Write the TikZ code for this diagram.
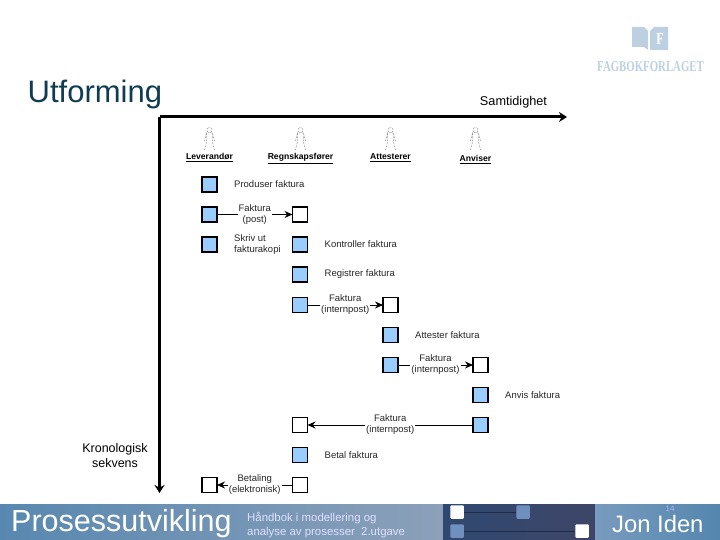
\documentclass[tikz,border=0pt]{standalone}
\usepackage{fontspec}
\setmainfont{Liberation Sans}
\newfontfamily\logofont[FakeStretch=0.72]{Liberation Serif}
\usepackage{xcolor}
\usetikzlibrary{arrows.meta,positioning,calc}
\definecolor{boxblue}{HTML}{99CCFF}
\definecolor{titleteal}{HTML}{0F3C50}
\definecolor{logoblue}{HTML}{BCD0E2}
\definecolor{sliderblue}{HTML}{6F8FBE}
\definecolor{sliderline}{HTML}{1E2C4A}
\begin{document}
\begin{tikzpicture}[x=1pt,y=-1pt,
    activity/.style={rectangle, draw=black, line width=1.2pt, fill=boxblue, minimum size=15pt, inner sep=0pt, outer sep=0pt},
    message/.style={activity, fill=white},
    txt/.style={font=\fontsize{9.5}{11.5}\selectfont, text=black!85, inner sep=0pt, align=left},
    flowlabel/.style={font=\fontsize{9.5}{11}\selectfont, text=black!85, fill=white, inner sep=1pt, align=center},
    flow/.style={-{Stealth[length=8pt,width=7pt]}, line width=0.9pt},
    actorname/.style={font=\fontsize{8.6}{9}\selectfont\bfseries, inner sep=0pt, anchor=base},
    figure/.style={line width=0.5pt, densely dotted, black!70},
    axis/.style={-{Stealth[length=8pt,width=10pt]}, line width=3pt},
    bannertext/.style={text=white, inner sep=0pt, anchor=west},
    slider/.style={rectangle, rounded corners=1pt, minimum size=13.5pt, inner sep=0pt}
]
    \useasboundingbox (0,0) rectangle (720,540);

    % banner
    \fill[left color={rgb,255:red,88;green,136;blue,176}, right color={rgb,255:red,140;green,160;blue,185}] (0,504) rectangle (443,540);
    \fill[left color={rgb,255:red,48;green,72;blue,112}, right color={rgb,255:red,62;green,70;blue,104}] (443,504) rectangle (595,540);
    \fill[left color={rgb,255:red,120;green,155;blue,190}, right color={rgb,255:red,84;green,134;blue,174}] (595,504) rectangle (720,540);
    \node[bannertext, font=\fontsize{30.5}{30}\selectfont] (book) at (11,524) {Prosessutvikling};
    \node[bannertext, font=\fontsize{11.4}{13.5}\selectfont, text=white!88!blue, align=left] (subtitle) at (247,525) {Håndbok i modellering og\\analyse av prosesser \ 2.utgave};
    \node[bannertext, font=\fontsize{23.8}{24}\selectfont] (author) at (612,523.5) {Jon Iden};
    \node[font=\fontsize{8}{8}\selectfont, text=white!70!blue, inner sep=0pt] (page) at (670,509) {14};
    \node[slider, fill=white] (s1) at (457,512) {};
    \node[slider, fill=sliderblue] (s2) at (523,512) {};
    \node[slider, fill=sliderblue] (s3) at (457,531) {};
    \node[slider, fill=white] (s4) at (582,531) {};
    \draw[sliderline, line width=0.5pt] (s1) -- (s2);
    \draw[sliderline, line width=0.5pt] (s3) -- (s4);

    % logo
    \fill[logoblue] (632,27) -- (644,27) -- (648,31) -- (648,50) -- (644,47) -- (632,47) -- cycle;
    \fill[logoblue] (650,31) -- (654,27) -- (668,27) -- (668,50) -- (650,50) -- cycle;
    \node[font=\fontsize{17}{17}\selectfont\bfseries\logofont, text=white, inner sep=0pt] (logoF) at (660,39) {F};
    \node[font=\fontsize{15}{15}\selectfont\bfseries\logofont, text=logoblue, inner sep=0pt] (logoname) at (650.5,67) {FAGBOKFORLAGET};

    % heading and axes
    \node[font=\fontsize{31}{31}\selectfont, text=titleteal, inner sep=0pt, anchor=west] (title) at (27.5,94.5) {Utforming};
    \coordinate (origin) at (159.5,117);
    \coordinate (xend) at (567,117);
    \coordinate (yend) at (159.5,493);
    \draw[axis] (origin) -- (xend);
    \draw[axis] (origin) -- (yend);
    \node[font=\fontsize{12.7}{14}\selectfont, inner sep=0pt] (xlabel) at (513.5,102) {Samtidighet};
    \node[font=\fontsize{12.5}{15}\selectfont, inner sep=0pt, align=center] (ylabel) at (115,456) {Kronologisk\\sekvens};

    % actors
    \foreach \cx/\nm/\ny in {209.5/Leverandør/160, 300.5/Regnskapsfører/160, 390.5/Attesterer/160, 475.5/Anviser/162} {
        \draw[figure] (\cx,130) circle (2.5pt);
        \draw[figure] (\cx-3,133) -- (\cx+3,133) -- (\cx+5,141) (\cx-3,133) -- (\cx-5,141)
            (\cx-3,133) -- (\cx-3,142) -- (\cx-5,150) (\cx+3,133) -- (\cx+3,142) -- (\cx+5,150);
        \node[actorname] at (\cx,\ny) {\underline{\nm}};
    }

    % activities
    \node[activity] (a1) at (209.5,184.5) {};
    \node[activity, below=15pt of a1] (a2) {};
    \node[activity, below=15pt of a2] (a3) {};
    \node[message, right=75.5pt of a2] (b2) {};
    \node[activity, below=15pt of b2] (b3) {};
    \node[activity, below=15pt of b3] (b4) {};
    \node[activity, below=15.5pt of b4] (b5) {};
    \node[message, right=75.5pt of b5] (c5) {};
    \node[activity, below=15pt of c5] (c6) {};
    \node[activity, below=15pt of c6] (c7) {};
    \node[message, right=75pt of c7] (d7) {};
    \node[activity, below=15pt of d7] (d8) {};
    \node[activity, below=15pt of d8] (d9) {};
    \node[message, below=105pt of b5] (b9) {};
    \node[activity, below=15pt of b9] (b10) {};
    \node[message, below=15pt of b10] (b11) {};
    \node[message, left=75.5pt of b11] (a11) {};

    \node[txt, right=17pt of a1] (t1) {Produser faktura};
    \node[txt, right=17pt of a3] (t3) {Skriv ut\\fakturakopi};
    \node[txt, right=17pt of b3] (t4) {Kontroller faktura};
    \node[txt, right=17pt of b4] (t5) {Registrer faktura};
    \node[txt, right=17pt of c6] (t6) {Attester faktura};
    \node[txt, right=17pt of d8] (t7) {Anvis faktura};
    \node[txt, right=17pt of b10] (t8) {Betal faktura};

    \draw[flow] (a2) -- node[flowlabel] {Faktura\\(post)} (b2);
    \draw[flow] (b5) -- node[flowlabel] {Faktura\\(internpost)} (c5);
    \draw[flow] (c7) -- node[flowlabel] {Faktura\\(internpost)} (d7);
    \draw[flow] (d9) -- node[flowlabel] {Faktura\\(internpost)} (b9);
    \draw[flow] (b11) -- node[flowlabel] {Betaling\\(elektronisk)} (a11);
\end{tikzpicture}
\end{document}
